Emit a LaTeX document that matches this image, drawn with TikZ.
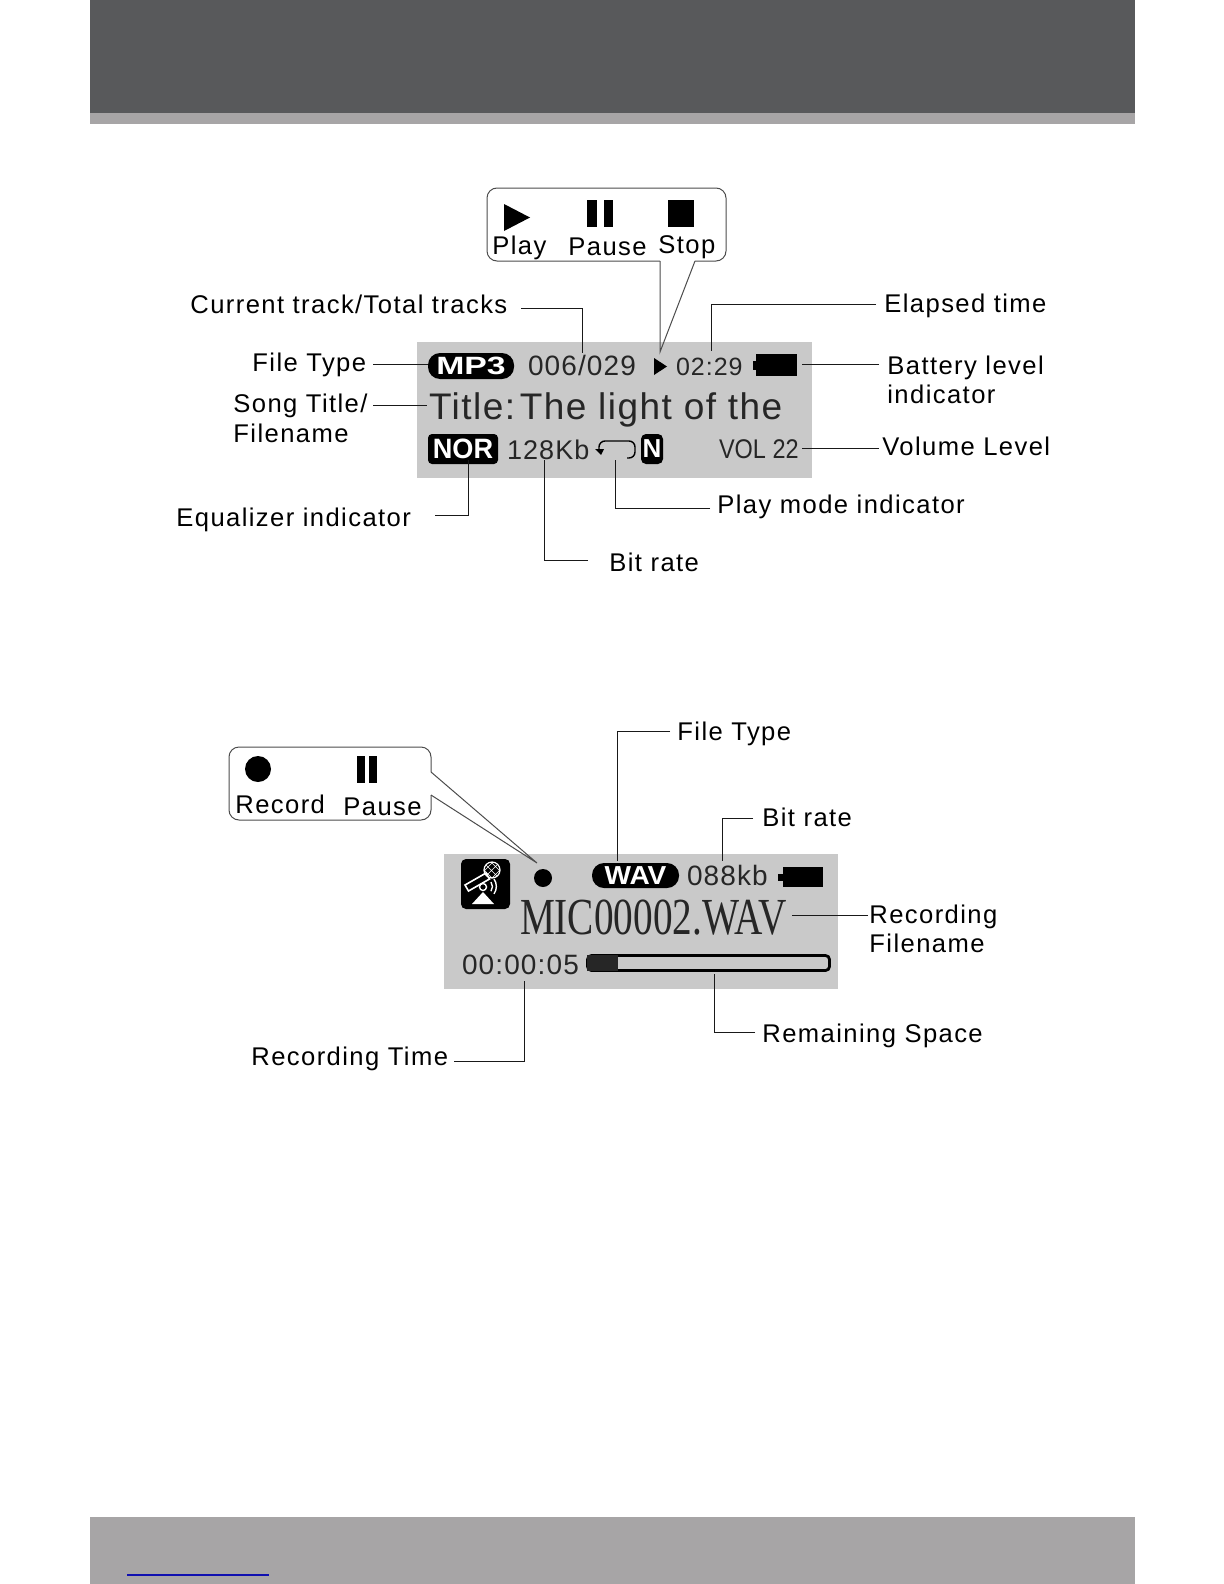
\documentclass[tikz,border=0pt]{standalone}
\usepackage{fontspec}
\setmainfont{Liberation Sans}
\newfontfamily\lblfam[LetterSpace=5.5]{Liberation Sans}
\newfontfamily\numfam[LetterSpace=4]{Liberation Sans}
\newfontfamily\ttlfam[LetterSpace=4]{Liberation Sans}
\newfontfamily\micfam{Liberation Serif}
\newcommand{\lblfont}{\lblfam\fontsize{12.8}{14}\selectfont}
\definecolor{headgray}{HTML}{58595B}
\definecolor{stripgray}{HTML}{A7A5A6}
\definecolor{lcdgray}{HTML}{C9C9C9}
\definecolor{linkblue}{HTML}{1010B0}

\begin{document}
\begin{tikzpicture}[x=0.5pt,y=-0.5pt,line width=0.5pt,
  lbl/.style={anchor=base west,inner sep=0pt,outer sep=0pt,xshift=-0.3pt,yshift=-0.3pt,font=\lblfont},
  lcdtxt/.style={anchor=base west,inner sep=0pt,outer sep=0pt,text=black!85},
  badge/.style={anchor=north west,inner sep=0pt,outer sep=0pt,fill=black,text=white,font=\bfseries},
  leader/.style={draw=black!90},
  callout/.style={draw=black!70,rounded corners=5pt},
  stem/.style={draw=black!70}]
  \useasboundingbox (0,0) rectangle (1224,1584);
  % page bands
  \fill[headgray] (90,0) rectangle (1135,113);
  \fill[stripgray] (90,113) rectangle (1135,124);
  \fill[stripgray] (90,1517) rectangle (1135,1584);
  \draw[linkblue,line width=0.7pt] (127,1575) -- (269,1575);

  % player screen
  \fill[lcdgray] (417,342) rectangle (812,478);
  \node (mpthree) [badge,rounded corners=6pt,minimum width=43pt,minimum height=13pt] at (428,353) {\fontsize{12.5}{14}\selectfont\scalebox{1.35}[1]{MP3}};
  \node (tracknum) [lcdtxt,font=\numfam\fontsize{14}{16}\selectfont] at (528,375) {006/029};
  \fill[black] (654,358) -- (667,366.5) -- (654,375) -- cycle;
  \node (elapsed) [lcdtxt,font=\numfam\fontsize{12.5}{14}\selectfont] at (676,375) {02:29};
  \node (battone) [badge,minimum width=20.5pt,minimum height=11pt] at (756,354) {};
  \fill[black] (752.5,361) rectangle (757,370);
  \node (title) [lcdtxt,font=\ttlfam\fontsize{18.5}{20}\selectfont] at (429,419) {Title:\hspace{-.3em} The light of the};
  \node (nor) [badge,rounded corners=2pt,minimum width=35pt,minimum height=15pt] at (428,434) {\fontsize{14}{16}\selectfont\scalebox{0.97}[1]{NOR}};
  \node (bitone) [lcdtxt,font=\numfam\fontsize{13.5}{15}\selectfont] at (507,459) {128Kb};
  \draw[line width=0.7pt,rounded corners=3pt] (599,450) -- (599,441) -- (635,441) -- (635,458) -- (627,458);
  \fill[black] (595,449) -- (604,449) -- (601,455) -- cycle;
  \node (nmode) [badge,rounded corners=2.5pt,minimum width=11pt,minimum height=15pt] at (641,434) {\fontsize{13}{15}\selectfont N};
  \node (volval) [lcdtxt,font=\fontsize{13.5}{15}\selectfont] at (719,458) {\scalebox{0.87}[1]{VOL 22}};

  % player callout
  \coordinate (playtip) at (660,352);
  \coordinate (playa) at (660,261);
  \coordinate (playb) at (695,261);
  \draw[callout] (playa) -- (487,261) -- (487,188) -- (726,188) -- (726,261) -- (playb);
  \draw[stem] (playa) -- (playtip) -- (playb);
  \fill[black] (504,204) -- (530,217.5) -- (504,231) -- cycle;
  \fill[black] (587,200) rectangle (597,227);
  \fill[black] (604,200) rectangle (613,227);
  \fill[black] (668,200) rectangle (694,227);
  \node (playlbl) [lbl] at (493,254) {Play};
  \node (pauselbl) [lbl] at (569,255) {Pause};
  \node (stoplbl) [lbl] at (659,253) {Stop};

  % player labels
  \node (tracklbl) [lbl] at (191,313) {Current track/Total tracks};
  \node (typelbl) [lbl] at (253,371) {File Type};
  \node (songlbl) [lbl] at (234,412) {Song Title/};
  \node (namelbl) [lbl] at (234,442) {Filename};
  \node (eqlbl) [lbl] at (177,526) {Equalizer indicator};
  \node (ratelbl) [lbl] at (610,571) {Bit rate};
  \node (modelbl) [lbl] at (718,513) {Play mode indicator};
  \node (timelbl) [lbl] at (885,312) {Elapsed time};
  \node (battlbl) [lbl] at (888,374) {Battery level};
  \node (indlbl) [lbl] at (888,403) {indicator};
  \node (vollbl) [lbl] at (883,455) {Volume Level};

  \coordinate (tracka) at (521,308);
  \coordinate (trackb) at (582,353);
  \coordinate (typea) at (373,364);
  \coordinate (songa) at (373,405);
  \coordinate (songb) at (427,405);
  \coordinate (eqa) at (435,515);
  \coordinate (eqb) at (468,460);
  \coordinate (ratea) at (588,560);
  \coordinate (rateb) at (544,460);
  \coordinate (modea) at (710,508);
  \coordinate (modeb) at (615,460);
  \coordinate (timea) at (876,304);
  \coordinate (timeb) at (711,351);
  \coordinate (batta) at (879,364);
  \coordinate (battb) at (802,364);
  \coordinate (vola) at (879,448);
  \coordinate (volb) at (802,448);
  \draw[leader] (tracka) -| (trackb);
  \draw[leader] (typea) -- (typea -| mpthree.west);
  \draw[leader] (songa) -- (songb);
  \draw[leader] (eqa) -| (eqb);
  \draw[leader] (ratea) -| (rateb);
  \draw[leader] (modea) -| (modeb);
  \draw[leader] (timea) -| (timeb);
  \draw[leader] (batta) -- (battb);
  \draw[leader] (vola) -- (volb);

  % recorder screen
  \fill[lcdgray] (444,854) rectangle (838,989);
  \node (mic) [badge,rounded corners=2.5pt,minimum width=24.5pt,minimum height=25pt] at (461,859) {};
  \draw[white,line width=0.8pt] (465,885) -- (486,873) -- (489.5,879) -- (468.5,891) -- cycle;
  \draw[white,line width=0.6pt] (492,870) circle (8);
  \draw[white,line width=0.3pt] (486,865) -- (497,876) (484,870) -- (492,878) (491,862) -- (500,871)
    (497,865) -- (486,876) (500,870) -- (492,878) (493,862) -- (484,871);
  \fill[white] (472,904) -- (494,904) -- (483,892) -- cycle;
  \draw[white,line width=0.7pt] (483,887) circle (3.5);
  \draw[white,line width=0.7pt] (491,882) arc (-35:35:8);
  \draw[white,line width=0.7pt] (494,879) arc (-35:35:13);
  \node (recdot) [circle,fill=black,inner sep=0pt,outer sep=0pt,minimum size=9pt] at (543,878) {};
  \node (wav) [badge,rounded corners=6pt,minimum width=43.5pt,minimum height=12.5pt] at (592,863) {\fontsize{13}{14}\selectfont\scalebox{1.08}[1]{WAV}};
  \node (bittwo) [lcdtxt,font=\numfam\fontsize{14}{16}\selectfont] at (687,885) {088kb};
  \node (batttwo) [badge,minimum width=20pt,minimum height=10pt] at (783,867) {};
  \fill[black] (778,874) rectangle (784,881);
  \node (micname) [lcdtxt,font=\micfam\fontsize{26}{28}\selectfont] at (520,934) {\scalebox{0.755}[1]{MIC00002.WAV}};
  \node (rectime) [lcdtxt,font=\numfam\fontsize{14}{16}\selectfont] at (462,974) {00:00:05};
  \draw[line width=1.4pt,rounded corners=2pt] (587.5,955.5) rectangle (829.5,970.5);
  \fill[black!85] (587,955) rectangle (618,971);

  % recorder callout
  \coordinate (rectip) at (537,863);
  \coordinate (reca) at (431,772);
  \coordinate (recb) at (431,795);
  \draw[callout] (reca) -- (431,747) -- (229,747) -- (229,820) -- (431,820) -- (recb);
  \draw[stem] (reca) -- (rectip) -- (recb);
  \fill[black] (258,769) circle (13);
  \fill[black] (357,756) rectangle (365,783);
  \fill[black] (369,756) rectangle (377,783);
  \node (recordlbl) [lbl] at (236,813) {Record};
  \node (rpauselbl) [lbl] at (344,815) {Pause};

  % recorder labels
  \node (wtypelbl) [lbl] at (678,740) {File Type};
  \node (wratelbl) [lbl] at (763,826) {Bit rate};
  \node (recnamelbl) [lbl] at (870,923) {Recording};
  \node (fnamelbl) [lbl] at (870,952) {Filename};
  \node (spacelbl) [lbl] at (763,1042) {Remaining Space};
  \node (rtimelbl) [lbl] at (252,1065) {Recording Time};

  \coordinate (wtypea) at (670,731);
  \coordinate (wtypeb) at (617,861);
  \coordinate (wratea) at (753,818);
  \coordinate (wrateb) at (722,861);
  \coordinate (recnamea) at (868,915);
  \coordinate (recnameb) at (792,915);
  \coordinate (spacea) at (755,1032);
  \coordinate (spaceb) at (714,974);
  \coordinate (rtimea) at (454,1061);
  \coordinate (rtimeb) at (524,981);
  \draw[leader] (wtypea) -| (wtypeb);
  \draw[leader] (wratea) -| (wrateb);
  \draw[leader] (recnamea) -- (recnameb);
  \draw[leader] (spacea) -| (spaceb);
  \draw[leader] (rtimea) -| (rtimeb);
\end{tikzpicture}
\end{document}
